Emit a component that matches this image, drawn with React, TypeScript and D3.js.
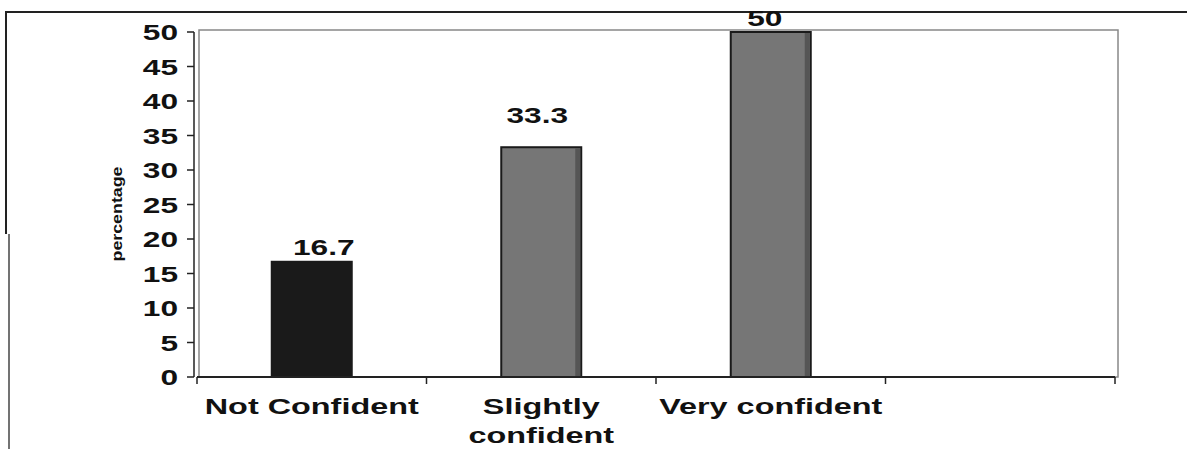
import React from "react";
import * as d3 from "d3";

const categories = ["Not Confident", "Slightly\nconfident", "Very confident"];
const values = [16.7, 33.3, 50];
const valueLabels = ["16.7", "33.3", "50"];
const yTicks = [0, 5, 10, 15, 20, 25, 30, 35, 40, 45, 50];
const barColors = ["#1a1a1a", "#767676", "#767676"];

const font = "Arial, 'Liberation Sans', sans-serif";
const SX = 1.44;

function WideText({ x, y, children, anchor = "middle", size = 22, sx = SX }: any) {
  return (
    <g transform={`translate(${x},${y}) scale(${sx},1)`}>
      <text x={0} y={0} textAnchor={anchor} fontFamily={font} fontWeight="bold" fontSize={size} fill="#111">
        {children}
      </text>
    </g>
  );
}

export default function App() {
  const W = 1187, H = 449;
  const left = 197, right = 1115, top = 32, bottom = 377;
  const slots = [...categories, "__empty__"];
  const x = d3.scaleBand().domain(slots).range([left, right]).paddingInner(0).paddingOuter(0);
  const y = d3.scaleLinear().domain([0, 50]).range([bottom, top]);
  const bw = 80;
  const tickXs = slots.map((s) => x(s)!).concat([right]);
  const labelGap = [7, 24, 6];
  const labelDx = [12, -4, -6];
  return (
    <svg width={W} height={H} style={{ position: "absolute", left: 0, top: 0, background: "#fff" }}>
      {/* outer frame */}
      <line x1={5} x2={W} y1={12} y2={12} stroke="#222" strokeWidth={2} />
      <line x1={6} x2={6} y1={12} y2={234} stroke="#222" strokeWidth={2} />
      <line x1={9} x2={9} y1={234} y2={H} stroke="#444" strokeWidth={1.5} />
      {/* plot area box */}
      <rect x={left + 2} y={top - 2} width={1118 - left - 2} height={bottom - top + 2} fill="#fff" stroke="#888" strokeWidth={1.5} />
      {/* y axis */}
      <line x1={left - 3} x2={left - 3} y1={top} y2={bottom} stroke="#222" strokeWidth={1.5} />
      {yTicks.map((t) => (
        <g key={t}>
          <line x1={left - 10} x2={left - 3} y1={y(t)} y2={y(t)} stroke="#222" strokeWidth={1.5} />
          <WideText x={178} y={y(t) + 8} anchor="end">{t}</WideText>
        </g>
      ))}
      <text transform={`translate(122,214) rotate(-90)`} textAnchor="middle" fontFamily={font} fontSize={14} fill="#111" fontWeight="bold" textLength={95} lengthAdjust="spacingAndGlyphs">percentage</text>
      {/* bars */}
      {categories.map((c, i) => {
        const cx = x(c)! + x.bandwidth() / 2;
        const by = y(values[i]);
        const bh = bottom - by;
        return (
          <g key={c}>
            <rect x={cx - bw / 2} y={by} width={bw} height={bh} fill={barColors[i]} stroke="#1a1a1a" strokeWidth={2} />
            {i > 0 && <rect x={cx + bw / 2 - 6} y={by + 1} width={5} height={bh - 1} fill="#555" />}
            <WideText x={cx + labelDx[i]} y={by - labelGap[i]}>{valueLabels[i]}</WideText>
          </g>
        );
      })}
      {/* x axis */}
      <line x1={left} x2={right} y1={bottom} y2={bottom} stroke="#222" strokeWidth={2} />
      {tickXs.map((tx, i) => (
        <line key={i} x1={tx} x2={tx} y1={bottom} y2={bottom + 7} stroke="#222" strokeWidth={1.5} />
      ))}
      {categories.map((c) => {
        const cx = x(c)! + x.bandwidth() / 2;
        const lines = c.split("\n");
        return (
          <g key={c}>
            {lines.map((l, j) => (
              <WideText key={j} x={cx} y={414 + j * 29} size={22.5} sx={1.44}>{l}</WideText>
            ))}
          </g>
        );
      })}
    </svg>
  );
}
